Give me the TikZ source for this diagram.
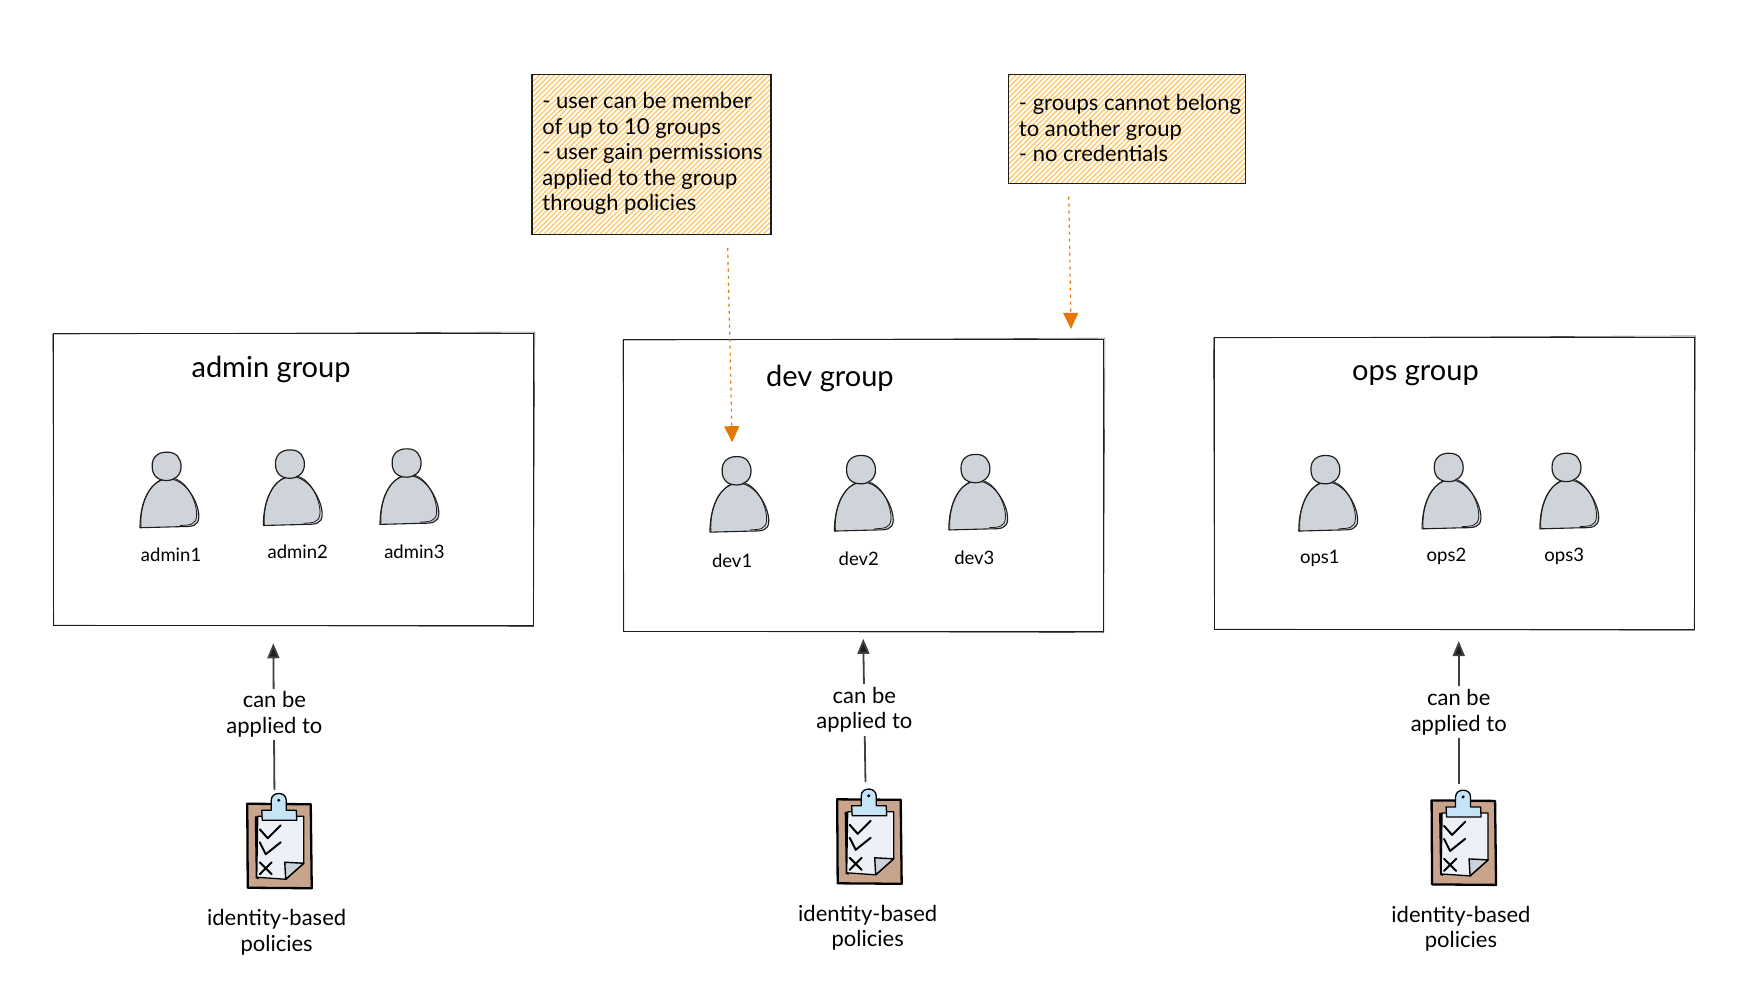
\documentclass[tikz,border=0pt]{standalone}
\usepackage{fontspec}
\setmainfont{Lato}
\usetikzlibrary{arrows.meta,calc}
\definecolor{ink}{HTML}{1E1E1E}
\definecolor{personfill}{HTML}{CED4DA}
\definecolor{hatch}{HTML}{FFC766}
\definecolor{noteorange}{HTML}{E67700}
\definecolor{board}{HTML}{C9A48C}
\definecolor{clipblue}{HTML}{C5E4F6}
\definecolor{paper}{HTML}{ECF1F8}
\definecolor{fold}{HTML}{CDD2DA}
\tikzset{
  x=1.111pt,y=-1.111pt,
  groupbox/.style={draw=ink,line width=0.9pt,minimum width=480pt,minimum height=292pt,inner sep=0pt,fill=white},
  rough/.style={draw=ink,line width=0.6pt,opacity=.75},
  notebox/.style={draw=ink,line width=1.3pt,inner sep=0pt},
  notetext/.style={font=\fontsize{22}{25.5}\selectfont,align=left,inner sep=0pt,anchor=north west,text=black},
  title/.style={font=\fontsize{29}{30}\selectfont,inner sep=0pt,text=black},
  usertext/.style={font=\fontsize{18.5}{20}\selectfont,inner sep=0pt,text=black},
  caption/.style={font=\fontsize{22}{25.5}\selectfont,align=center,inner sep=1pt,text=black},
  applied/.style={caption,fill=white,inner sep=3pt},
  blackarrow/.style={draw=ink!85,line width=1.8pt,-{Triangle[length=15pt,width=12pt,fill=ink]}},
  notearrow/.style={draw=noteorange,line width=1.2pt,dash pattern=on 3pt off 4pt,-{Triangle[length=16pt,width=15pt,fill=noteorange]}},
  sk/.style={draw=black,line width=2pt,line cap=round,line join=round},
}
% person: head centre at #1,#2, label in #3 at #4,#5, node name #6
\newcommand{\personfig}[6]{%
  \begin{scope}[shift={(#1,#2)}]
    \fill[personfill] (-24,55) .. controls (-24,30) and (-14,11) .. (2,11) .. controls (17,11) and (29,32) .. (29,45) .. controls (29,54) and (22,54) .. (14,54) -- cycle;
    \draw[draw=ink,line width=1.1pt,line join=round] (-24,55) .. controls (-24,30) and (-14,11) .. (2,11) .. controls (17,11) and (29,32) .. (29,45) .. controls (29,54) and (22,54) .. (14,54) -- cycle;
    \draw[draw=ink,line width=.8pt] (-23,55.5) .. controls (-25,30) and (-12,9.5) .. (3,10) .. controls (18,10.5) and (27.5,32) .. (27,44) .. controls (26.5,53) and (20,52.5) .. (12,53);
    \fill[personfill] (0,0) circle[radius=13];
    \draw[draw=ink,line width=1.2pt] (-13,0) .. controls (-13.5,-9) and (-7,-13.5) .. (1,-13) .. controls (9,-13) and (13,-7) .. (13,0) .. controls (13,8) and (7,12.5) .. (0,12.5) .. controls (-8,12.5) and (-13,8) .. (-13,0) -- cycle;
  \end{scope}
  \node[usertext] (#6) at (#4,#5) {#3};
}
% clipboard: top-left corner of the board
\newcommand{\clipfig}[2]{%
  \begin{scope}[shift={(#1,#2)},scale=.9]
    \fill[board] (0,0) rectangle (63,85);
    \draw[sk,line width=2.3pt] (-.5,.5) -- (63,1) -- (64,85) -- (0,84.5) -- cycle;
    \fill[black] (7,13) -- (10,13) -- (11,76) -- (8,75) -- cycle;
    \filldraw[fill=paper,sk,line width=1.3pt] (10,13) -- (56,13) -- (56,60) -- (38,76) -- (9,74) -- cycle;
    \filldraw[fill=fold,sk,line width=1.4pt] (37,59) -- (56,60) -- (38,76) -- cycle;
    \filldraw[fill=clipblue,sk,line width=1.3pt] (23.5,7) -- (23.5,-3) .. controls (23.5,-12) and (38.5,-12) .. (38.5,-3) -- (38.5,7) -- (48.5,7) -- (49,17) -- (14.5,17) -- (14,7) -- cycle;
    \fill[black] (31,-3) circle[radius=1.7];
    \draw[sk] (12,26) -- (20,35) -- (33,22);
    \draw[sk] (12,39) -- (18,51) -- (33,39);
    \draw[sk] (12,59) -- (24,71) (24,59) -- (12,71);
  \end{scope}
}
% hatched note background
\newcommand{\hatchfill}[4]{%
  \begin{scope}
    \clip (#1,#2) rectangle (#3,#4);
    \foreach \h in {0,4.6,...,420} {
      \draw[hatch,line width=1.3pt] ($(#1,#4)+(\h-160,0)$) -- ++(200,-200);
    }
  \end{scope}
}
\begin{document}
\begin{tikzpicture}
\useasboundingbox (0pt,0pt) rectangle (1743pt,-991pt);

% group boxes
\node[groupbox] (admin) at (264.3,431.5) {};
\node[groupbox] (dev) at (777.5,437) {};
\node[groupbox] (ops) at (1309,435) {};
\foreach \g in {admin,dev,ops} {
  \draw[rough] ($(\g.north west)+(-.4,1)$) -- ($(\g.north east)+(.6,-.8)$) -- ($(\g.south east)+(-.5,.6)$) -- ($(\g.south west)+(.5,-.6)$) -- cycle;
}
\node[title] (admintitle) at (244,333) {admin group};
\node[title] (devtitle) at (747,341) {dev group};
\node[title] (opstitle) at (1274,338) {ops group};

% users
\personfig{150}{420}{admin1}{154}{499}{u1}
\personfig{261}{418}{admin2}{268}{497}{u2}
\personfig{366}{417}{admin3}{373}{497}{u3}
\personfig{663}{424}{dev1}{659}{505}{u4}
\personfig{775}{423}{dev2}{773}{503}{u5}
\personfig{878}{422}{dev3}{877}{502}{u6}
\personfig{1193}{423}{ops1}{1188}{503}{u7}
\personfig{1304}{421}{ops2}{1302}{501}{u8}
\personfig{1410}{421}{ops3}{1408}{501}{u9}

% notes
\hatchfill{479}{67}{694}{211}
\node[notebox,minimum width=239pt,minimum height=160pt] (note1) at (586.5,139) {};
\node[notetext] (note1text) at (488,83) {- user can be member\\of up to 10 groups\\- user gain permissions\\applied to the group\\through policies};
\hatchfill{908}{67}{1121}{165}
\node[notebox,minimum width=237pt,minimum height=109pt] (note2) at (1014.5,116) {};
\node[notetext] (note2text) at (917,85) {- groups cannot belong\\to another group\\- no credentials};

% note arrows
\coordinate (n1a) at (655,223);
\coordinate (n1b) at (659,398);
\coordinate (n2a) at (962,177);
\coordinate (n2b) at (964,296);
\draw[notearrow] (n1a) -- (n1b);
\draw[notearrow] (n2a) -- (n2b);

% policies
\clipfig{223}{723}
\clipfig{754}{719}
\clipfig{1289}{720}
\node[caption] (p1) at (249,839) {identity-based\\policies};
\node[caption] (p2) at (781,835) {identity-based\\policies};
\node[caption] (p3) at (1315,836) {identity-based\\policies};

% policy arrows
\coordinate (s1) at (247,711); \coordinate (t1) at (246,579);
\coordinate (s2) at (779,704); \coordinate (t2) at (777,575);
\coordinate (s3) at (1313,706); \coordinate (t3) at (1313,577);
\draw[blackarrow] (s1) -- (t1);
\draw[blackarrow] (s2) -- (t2);
\draw[blackarrow] (s3) -- (t3);
\node[applied] (a1) at (247,643) {can be\\applied to};
\node[applied] (a2) at (778,639) {can be\\applied to};
\node[applied] (a3) at (1313,641) {can be\\applied to};
\end{tikzpicture}
\end{document}
